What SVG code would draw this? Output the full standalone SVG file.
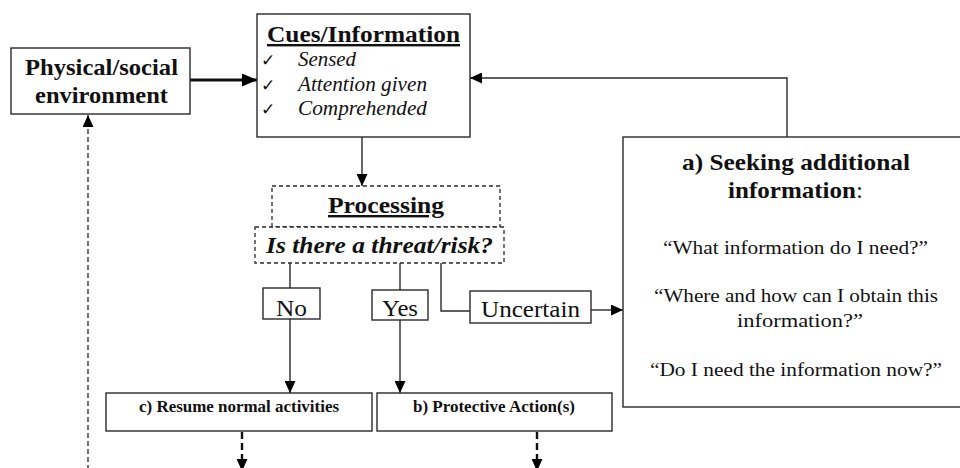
<svg xmlns="http://www.w3.org/2000/svg" width="960" height="468" viewBox="0 0 960 468">
  <style>
    .box { fill: #fff; stroke: #2a2a2a; stroke-width: 1.4; }
    .dbox { fill: #fff; stroke: #2a2a2a; stroke-width: 1.3; stroke-dasharray: 4 3; }
    text { font-family: 'Liberation Serif', 'DejaVu Serif', serif; fill: #111; }
    .b { font-weight: bold; }
    .i { font-style: italic; }
    .u { text-decoration: underline; }
    .mid { text-anchor: middle; }
    .line { fill: none; stroke: #2a2a2a; stroke-width: 1.4; }
    .thick { fill: none; stroke: #111; stroke-width: 3; }
    .dash { fill: none; stroke: #111; stroke-width: 1.2; stroke-dasharray: 5 3; }
    .dashb { fill: none; stroke: #111; stroke-width: 2.4; stroke-dasharray: 7 4; }
    text.chk { font-family: 'DejaVu Sans', sans-serif; font-size: 17px; }
  </style>
  <defs>
    <marker id="arr" markerUnits="userSpaceOnUse" markerWidth="12" markerHeight="11" refX="12" refY="5.5" orient="auto">
      <path d="M0,0 L12,5.5 L0,11 z" fill="#000"/>
    </marker>
    <marker id="arrBig" markerUnits="userSpaceOnUse" markerWidth="15" markerHeight="13" refX="15" refY="6.5" orient="auto">
      <path d="M0,0 L15,6.5 L0,13 z" fill="#000"/>
    </marker>
  </defs>

  <!-- connectors -->
  <g id="connectors">
    <path class="thick" d="M190,80 H257" marker-end="url(#arrBig)"/>
    <path class="line" d="M362,137 V186" marker-end="url(#arr)"/>
    <path class="line" d="M290,263 V288"/>
    <path class="line" d="M290,319 V393" marker-end="url(#arr)"/>
    <path class="line" d="M400,263 V290"/>
    <path class="line" d="M400,320 V393" marker-end="url(#arr)"/>
    <path class="line" d="M441,263 V311 H470"/>
    <path class="line" d="M591,310 H623" marker-end="url(#arr)"/>
    <path class="line" d="M787,137 V78 H470" marker-end="url(#arr)"/>
    <path class="dashb" d="M242,432 V471" marker-end="url(#arr)"/>
    <path class="dashb" d="M537,432 V471" marker-end="url(#arr)"/>
    <path class="dash" d="M88,470 V115" marker-end="url(#arr)"/>
  </g>

  <g id="environment">
    <rect class="box" x="11" y="48" width="179" height="66"/>
    <text class="b mid" x="101.5" y="75" font-size="23" textLength="153" lengthAdjust="spacingAndGlyphs">Physical/social</text>
    <text class="b mid" x="101.5" y="103" font-size="23" textLength="133" lengthAdjust="spacingAndGlyphs">environment</text>
  </g>

  <g id="cues">
    <rect class="box" x="257" y="14" width="213" height="123"/>
    <text class="b u mid" x="363.5" y="42" font-size="24" textLength="193" lengthAdjust="spacingAndGlyphs">Cues/Information</text>
    <text class="chk" x="261" y="66">✓</text>
    <text class="chk" x="261" y="91">✓</text>
    <text class="chk" x="261" y="115">✓</text>
    <text class="i" x="298" y="66" font-size="20" textLength="58" lengthAdjust="spacingAndGlyphs">Sensed</text>
    <text class="i" x="298" y="91" font-size="20" textLength="129" lengthAdjust="spacingAndGlyphs">Attention given</text>
    <text class="i" x="298" y="115" font-size="20" textLength="129" lengthAdjust="spacingAndGlyphs">Comprehended</text>
  </g>

  <g id="processing">
    <rect class="dbox" x="272" y="186" width="228" height="41"/>
    <text class="b u" x="328" y="213" font-size="24" textLength="116" lengthAdjust="spacingAndGlyphs">Processing</text>
  </g>

  <g id="threat-question">
    <rect class="dbox" x="255" y="227" width="249" height="36"/>
    <text class="b i" x="266" y="253" font-size="23" textLength="227" lengthAdjust="spacingAndGlyphs">Is there a threat/risk?</text>
  </g>

  <g id="answer-no">
    <rect class="box" x="263" y="288" width="57" height="31"/>
    <text x="276" y="316" font-size="23" textLength="31" lengthAdjust="spacingAndGlyphs">No</text>
  </g>

  <g id="answer-yes">
    <rect class="box" x="372" y="290" width="56" height="30"/>
    <text x="382" y="316" font-size="23" textLength="36" lengthAdjust="spacingAndGlyphs">Yes</text>
  </g>

  <g id="answer-uncertain">
    <rect class="box" x="470" y="291" width="121" height="32"/>
    <text x="481" y="317" font-size="23" textLength="99" lengthAdjust="spacingAndGlyphs">Uncertain</text>
  </g>

  <g id="seeking">
    <rect class="box" x="623" y="137" width="345" height="270"/>
    <text class="b" x="682" y="170" font-size="23" textLength="228" lengthAdjust="spacingAndGlyphs">a) Seeking additional</text>
    <text x="728" y="198" font-size="23" textLength="135" lengthAdjust="spacingAndGlyphs"><tspan class="b">information</tspan>:</text>
    <text x="663" y="254" font-size="19.5" textLength="265" lengthAdjust="spacingAndGlyphs">“What information do I need?”</text>
    <text x="654" y="302" font-size="19.5" textLength="284" lengthAdjust="spacingAndGlyphs">“Where and how can I obtain this</text>
    <text x="737" y="327" font-size="19.5" textLength="126" lengthAdjust="spacingAndGlyphs">information?”</text>
    <text x="650" y="376" font-size="19.5" textLength="292" lengthAdjust="spacingAndGlyphs">“Do I need the information now?”</text>
  </g>

  <g id="resume">
    <rect class="box" x="106" y="393" width="266" height="38"/>
    <text class="b" x="139" y="412" font-size="16" textLength="200" lengthAdjust="spacingAndGlyphs">c) Resume normal activities</text>
  </g>

  <g id="protective">
    <rect class="box" x="377" y="393" width="235" height="38"/>
    <text class="b" x="413" y="412" font-size="16" textLength="162" lengthAdjust="spacingAndGlyphs">b) Protective Action(s)</text>
  </g>
</svg>
